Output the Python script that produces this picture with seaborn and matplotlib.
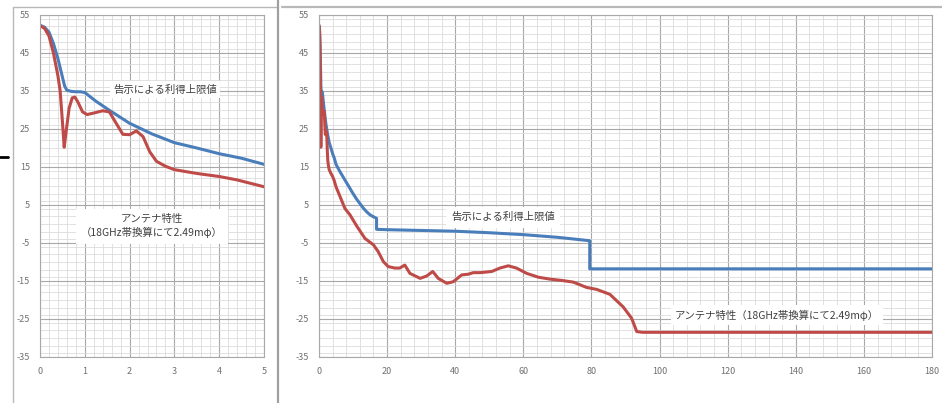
import matplotlib
matplotlib.use("Agg")
import matplotlib.pyplot as plt
from matplotlib.lines import Line2D
from matplotlib.ticker import MultipleLocator
import seaborn as sns
import pandas as pd

# ---- data ----
limit_x = [0, 0.1, 0.2, 0.3, 0.4, 0.5, 0.55, 0.6, 0.7, 0.8, 0.9, 1.0, 1.25, 1.5, 2.0, 2.5, 3.0,
           3.5, 4.0, 4.5, 5.0, 6, 7, 8, 9, 10, 11, 12, 13, 14, 15, 16, 16.9, 16.9, 20, 30, 40,
           50, 60, 70, 79.5, 79.5, 100, 140, 180]
limit_y = [52.3, 51.8, 50.5, 47.5, 43.5, 38.7, 36.3, 35.2, 34.9, 34.8, 34.8, 34.6, 32.3, 30.3,
           26.5, 23.7, 21.4, 20.0, 18.5, 17.3, 15.7, 14.0, 12.5, 11.0, 9.5, 8.0, 6.6, 5.4, 4.2,
           3.2, 2.4, 1.9, 1.5, -1.4, -1.5, -1.7, -1.9, -2.3, -2.8, -3.5, -4.4, -11.8, -11.8,
           -11.8, -11.8]

ant_x = [0, 0.1, 0.2, 0.3, 0.4, 0.45, 0.5, 0.54, 0.58, 0.65, 0.72, 0.78, 0.85, 0.95, 1.05,
         1.2, 1.4, 1.55, 1.7, 1.85, 2.0, 2.15, 2.3, 2.45, 2.6, 2.8, 3.0, 3.5, 4.0, 4.4, 4.7,
         5.0, 6.6, 7.6, 9.1, 11.2, 13.5, 16.0, 17.4, 18.9, 20.3, 22.3, 23.7, 25.2, 26.7,
         29.7, 31.6, 33.4, 35.0, 37.5, 39.4, 41.9, 43.9, 45.3, 47.3, 50.7, 53.1, 55.6,
         58.0, 61.0, 64.4, 67.8, 71.7, 74.7, 78.6, 81.5, 85.4, 89.3, 91.8, 93.3, 95.0, 180]
ant_y = [52.2, 51.5, 49.5, 45.0, 39.0, 35.0, 27.0, 20.2, 24.0, 30.5, 33.2, 33.4, 32.0, 29.5,
         28.8, 29.2, 29.8, 29.5, 26.5, 23.6, 23.5, 24.5, 23.0, 19.0, 16.5, 15.2, 14.3, 13.3,
         12.5, 11.6, 10.7, 9.8, 6.3, 4.1, 2.4, -0.7, -3.8, -5.5, -7.3, -9.9, -11.2, -11.6,
         -11.6, -10.8, -13.0, -14.3, -13.7, -12.5, -14.3, -15.6, -15.2, -13.4, -13.2, -12.8,
         -12.8, -12.5, -11.6, -11.0, -11.6, -13.0, -14.0, -14.5, -14.9, -15.3, -16.7, -17.2,
         -18.5, -21.8, -24.8, -28.3, -28.5, -28.5]

label_limit = "告示による利得上限値"
label_ant_2l = "アンテナ特性\n（18GHz帯換算にて2.49mφ）"
label_ant_1l = "アンテナ特性（18GHz帯換算にて2.49mφ）"

left_xticks = [0, 1, 2, 3, 4, 5]
right_xticks = [0, 20, 40, 60, 80, 100, 120, 140, 160, 180]
yticks = [55, 45, 35, 25, 15, 5, -5, -15, -25, -35]

BLUE = "#4a7ebb"
RED = "#be4b48"

sns.set_style("white")
plt.rcParams["font.family"] = ["Noto Sans CJK JP", "DejaVu Sans"]
plt.rcParams["axes.unicode_minus"] = False

W, H = 942, 403
fig = plt.figure(figsize=(W / 100, H / 100), dpi=100)


def fx(x):
    return x / W


def fy(y):
    return 1 - y / H


df_lim = pd.DataFrame({"x": limit_x, "y": limit_y})
df_ant = pd.DataFrame({"x": ant_x, "y": ant_y})


def setup(ax, xmax, xminor, xticks):
    ax.set_xlim(0, xmax)
    ax.set_ylim(-35, 55)
    ax.set_xticks(xticks)
    ax.set_yticks(yticks)
    ax.xaxis.set_minor_locator(MultipleLocator(xminor))
    ax.yaxis.set_minor_locator(MultipleLocator(2))
    ax.grid(which="major", color="#a8a8a8", lw=0.8)
    ax.grid(which="minor", color="#dcdcdc", lw=0.6)
    ax.set_axisbelow(True)
    for s in ax.spines.values():
        s.set_color("#a8a8a8")
        s.set_linewidth(0.8)
    ax.tick_params(axis="both", which="major", labelsize=6.5, labelcolor="#707070",
                   color="#a8a8a8", length=3, width=0.8, direction="out", pad=4)
    ax.tick_params(which="minor", length=0)
    ax.set_xlabel("")
    ax.set_ylabel("")


# left panel
axL = fig.add_axes([fx(40), fy(357), fx(264) - fx(40), fy(15) - fy(357)])
sns.lineplot(data=df_lim, x="x", y="y", ax=axL, sort=False, estimator=None, color=BLUE, lw=2.2)
sns.lineplot(data=df_ant, x="x", y="y", ax=axL, sort=False, estimator=None, color=RED, lw=2.2)
setup(axL, 5, 0.2, left_xticks)
axL.text(2.79, 35.3, label_limit, fontsize=7.5, color="#404040", ha="center", va="center",
         bbox=dict(facecolor="white", edgecolor="none", pad=2.5))
axL.text(2.5, -0.6, label_ant_2l, fontsize=7.5, color="#404040", ha="center", va="center",
         linespacing=1.35, bbox=dict(facecolor="white", edgecolor="none", pad=4))

# right panel
axR = fig.add_axes([fx(319), fy(357), fx(932) - fx(319), fy(15) - fy(357)])
sns.lineplot(data=df_lim, x="x", y="y", ax=axR, sort=False, estimator=None, color=BLUE, lw=2.2)
sns.lineplot(data=df_ant, x="x", y="y", ax=axR, sort=False, estimator=None, color=RED, lw=2.2)
setup(axR, 180, 4, right_xticks)
axR.text(54, 1.8, label_limit, fontsize=7.5, color="#404040", ha="center", va="center",
         bbox=dict(facecolor="white", edgecolor="none", pad=4))
axR.text(134.5, -24.0, label_ant_1l, fontsize=7.5, color="#404040", ha="center", va="center",
         bbox=dict(facecolor="white", edgecolor="none", pad=3))

# frame decorations
frame = "#b8b8b8"
fig.add_artist(Line2D([fx(13), fx(13)], [fy(7), fy(403)], color=frame, lw=1.0))
fig.add_artist(Line2D([fx(13), fx(278)], [fy(7), fy(7)], color=frame, lw=1.0))
fig.add_artist(Line2D([fx(278), fx(278)], [fy(0), fy(403)], color="#a0a0a0", lw=1.6))
fig.add_artist(Line2D([fx(282), fx(942)], [fy(7), fy(7)], color=frame, lw=1.6))
fig.add_artist(Line2D([fx(0), fx(8)], [fy(157), fy(157)], color="black", lw=2.0))

fig.savefig("out.png", dpi=100)
